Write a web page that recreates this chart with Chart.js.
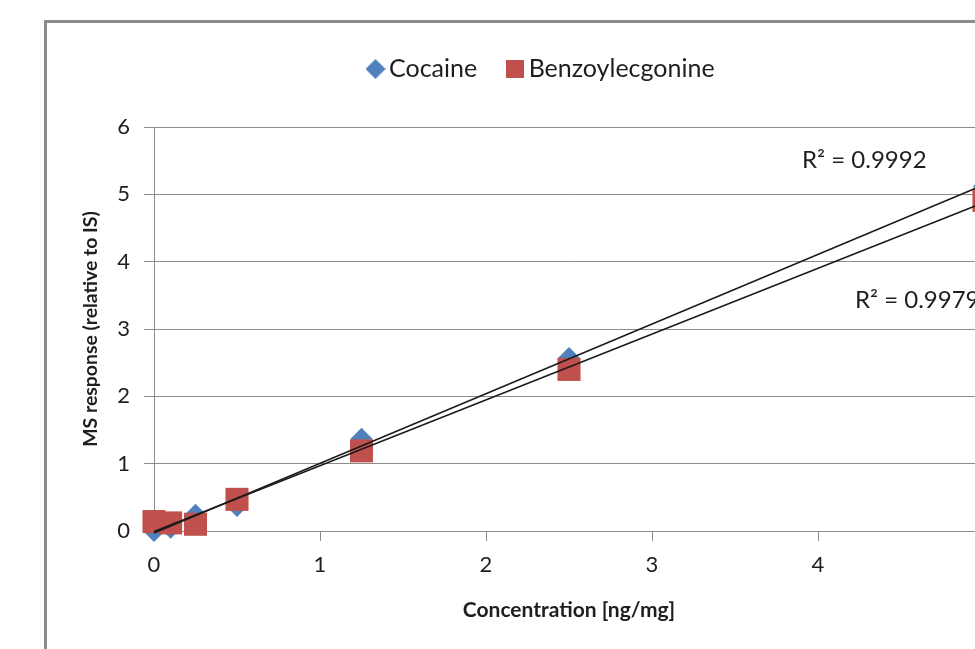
<!DOCTYPE html>
<html>
<head>
<meta charset="utf-8">
<script src="https://cdn.jsdelivr.net/npm/chart.js@4.4.1/dist/chart.umd.min.js"></script>
<style>
  html, body { margin: 0; padding: 0; background: #fff; overflow: hidden; width: 975px; height: 649px; }
  #frame { position: absolute; left: 44px; top: 20px; width: 993px; height: 700px; border: 3px solid #8c8c8c; box-sizing: border-box; }
  #c { position: absolute; left: 0; top: 0; }
</style>
</head>
<body>
<div id="frame"></div>
<canvas id="c" width="1040" height="649"></canvas>
<script>
// Calibration data: concentration (ng/mg) vs MS response relative to the internal standard
const concentrations   = [0, 0.1, 0.25, 0.5, 1.25, 2.5, 5];
const cocaine          = [0.00, 0.05, 0.24, 0.37, 1.37, 2.57, 5.12];
const benzoylecgonine  = [0.14, 0.12, 0.10, 0.47, 1.19, 2.40, 4.91];
const seriesNames      = ['Cocaine', 'Benzoylecgonine'];
const seriesColors     = ['#4f81bd', '#c0504d'];
const rSquaredLabels   = ['R\u00b2 = 0.9992', 'R\u00b2 = 0.9979'];
const xAxisTitle = 'Concentration [ng/mg]';
const yAxisTitle = 'MS response (relative to IS)';

const TEXT = '#1e1e1e';
const GRID = '#8c8c8c';
const FONT = 'Lato';

// least-squares straight line through a series, drawn across the measured range
function trendLine(xs, ys) {
  const n = xs.length;
  let sx = 0, sy = 0, sxx = 0, sxy = 0;
  for (let i = 0; i < n; i++) { sx += xs[i]; sy += ys[i]; sxx += xs[i] * xs[i]; sxy += xs[i] * ys[i]; }
  const slope = (n * sxy - sx * sy) / (n * sxx - sx * sx);
  const intercept = (sy - slope * sx) / n;
  const x0 = Math.min(...xs), x1 = Math.max(...xs);
  return [{ x: x0, y: intercept + slope * x0 }, { x: x1, y: intercept + slope * x1 }];
}

const points = ys => concentrations.map((x, i) => ({ x, y: ys[i] }));

// small legend symbols
function symbol(kind, color) {
  const s = kind === 'diamond' ? 20 : 18;
  const cv = document.createElement('canvas');
  cv.width = s; cv.height = s;
  const g = cv.getContext('2d');
  g.fillStyle = color;
  if (kind === 'diamond') {
    g.beginPath(); g.moveTo(s / 2, 0); g.lineTo(s, s / 2); g.lineTo(s / 2, s); g.lineTo(0, s / 2); g.closePath(); g.fill();
  } else {
    g.fillRect(0, 0, s, s);
  }
  return cv;
}
const legendSymbols = [symbol('diamond', seriesColors[0]), symbol('square', seriesColors[1])];

// extra room between the legend and the plot; legend row starts at a fixed x
const legendSpacing = {
  id: 'legendSpacing',
  beforeInit(chart) {
    const fit = chart.legend.fit;
    chart.legend.fit = function () { fit.call(this); this.height += 35.5; };
  },
  afterLayout(chart) {
    const lg = chart.legend;
    const pad = lg.options.labels.padding;
    const start = (lg.left + pad + lg.right - lg.lineWidths[0]) / 2;
    const d = 374.5 - start;
    lg.left += d; lg.right += d;
  }
};

// R² annotations next to the trend lines
const r2Anchors = [{ x: 3.904, y: 5.513 }, { x: 4.223, y: 3.432 }];
const r2Text = {
  id: 'r2Text',
  afterDatasetsDraw(chart) {
    const { ctx, scales: { x, y } } = chart;
    ctx.save();
    ctx.font = '24px ' + FONT;
    ctx.fillStyle = TEXT;
    ctx.textAlign = 'left';
    ctx.textBaseline = 'middle';
    r2Anchors.forEach((a, i) => ctx.fillText(rSquaredLabels[i], x.getPixelForValue(a.x), y.getPixelForValue(a.y)));
    ctx.restore();
  }
};

new Chart(document.getElementById('c'), {
  type: 'scatter',
  data: {
    datasets: [
      { label: seriesNames[0], data: points(cocaine), backgroundColor: seriesColors[0], borderWidth: 0,
        pointStyle: 'rectRot', pointRadius: 11, pointHoverRadius: 11, order: 2, clip: false },
      { label: seriesNames[1], data: points(benzoylecgonine), backgroundColor: seriesColors[1], borderWidth: 0,
        pointStyle: 'rect', pointRadius: 16.3, pointHoverRadius: 16.3, order: 1, clip: false },
      { label: 'fit-cocaine', type: 'line', data: trendLine(concentrations, cocaine), borderColor: '#1a1a1a',
        borderWidth: 1.5, pointRadius: 0, fill: false, order: 0, clip: false },
      { label: 'fit-benzoylecgonine', type: 'line', data: trendLine(concentrations, benzoylecgonine), borderColor: '#1a1a1a',
        borderWidth: 1.5, pointRadius: 0, fill: false, order: 0, clip: false }
    ]
  },
  options: {
    responsive: false,
    animation: false,
    devicePixelRatio: 1,
    layout: { padding: { left: 48, top: 19.5, right: 56, bottom: 0 } },
    plugins: {
      tooltip: { enabled: false },
      legend: {
        position: 'top',
        labels: {
          usePointStyle: true,
          pointStyleWidth: 2,
          padding: 37,
          color: TEXT,
          font: { family: FONT, size: 25 },
          sort: (a, b) => a.datasetIndex - b.datasetIndex,
          generateLabels(chart) {
            return Chart.defaults.plugins.legend.labels.generateLabels(chart)
              .filter(it => it.datasetIndex < 2)
              .map(it => Object.assign(it, { pointStyle: legendSymbols[it.datasetIndex] }));
          }
        }
      }
    },
    scales: {
      x: {
        type: 'linear', min: 0, max: 5,
        ticks: { stepSize: 1, color: TEXT, font: { family: FONT, size: 22 }, padding: 11 },
        grid: { drawOnChartArea: false, tickLength: 10, color: GRID },
        border: { color: GRID, width: 1 },
        title: { display: true, text: xAxisTitle, color: TEXT, font: { family: FONT, size: 21, weight: 'bold' }, padding: { top: 0, bottom: 26.4 } },
        afterFit(s) { s.height = 118; }
      },
      y: {
        type: 'linear', min: 0, max: 6,
        ticks: { stepSize: 1, color: TEXT, font: { family: FONT, size: 22 }, padding: 14 },
        grid: { tickLength: 10, color: GRID },
        border: { color: GRID, width: 1 },
        title: { display: true, text: yAxisTitle, color: TEXT, font: { family: FONT, size: 19.4, weight: 'bold' }, padding: { top: 31.4, bottom: 0 } },
        afterFit(s) { s.width = 106; }
      }
    }
  },
  plugins: [legendSpacing, r2Text]
});
</script>
</body>
</html>
